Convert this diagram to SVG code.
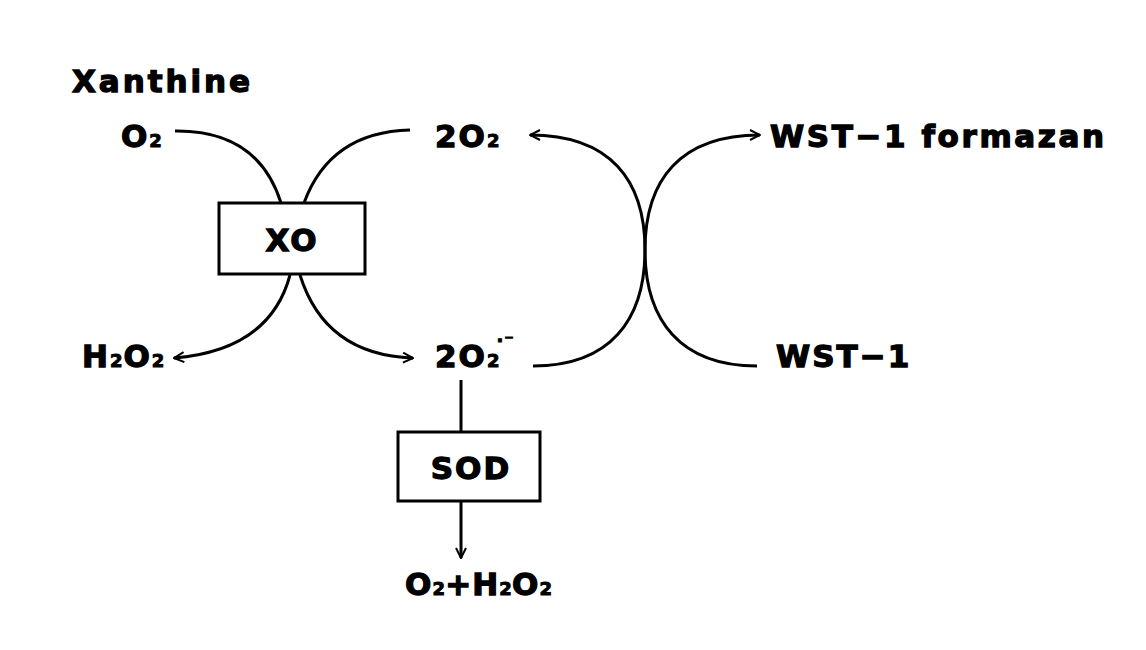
<svg xmlns="http://www.w3.org/2000/svg" width="1146" height="650" viewBox="0 0 1146 650">
<defs>
<marker id="ah" viewBox="0 0 12 12" refX="11" refY="6" markerWidth="12" markerHeight="12" markerUnits="userSpaceOnUse" orient="auto"><path d="M1,1 L11,6 L1,11" fill="none" stroke="#000" stroke-width="2"/></marker>
<style>
text{font-family:"DejaVu Sans",sans-serif;font-weight:bold;font-size:31px;fill:#000;stroke:#000;stroke-width:1.3px;letter-spacing:2px}
.s{font-size:18px;letter-spacing:1px;stroke-width:1px}
.c{fill:none;stroke:#000;stroke-width:3}
.b{fill:#fff;stroke:#000;stroke-width:3}
</style>
</defs>
<rect width="1146" height="650" fill="#fff"/>
<g id="connectors">
<path class="c" d="M175,131 Q258,130 281,203"/>
<path class="c" d="M410,130 Q330,132 304,203"/>
<path class="c" d="M290,275 Q270,350 174,358" marker-end="url(#ah)"/>
<path class="c" d="M300,275 Q325,355 413,358" marker-end="url(#ah)"/>
<path class="c" d="M533,366 C610,366 645,320 645,250 C645,180 610,135 530,135" marker-end="url(#ah)"/>
<path class="c" d="M757,366 C680,366 645,320 645,250 C645,180 680,135 760,135" marker-end="url(#ah)"/>
<path class="c" d="M461,380 L461,432"/>
<path class="c" stroke-width="2" d="M461,501 L461,558" marker-end="url(#ah)"/>
</g>
<g id="xanthine"><text x="72" y="92" textLength="180">Xanthine</text></g>
<g id="o2"><text x="121" y="147">O<tspan class="s">2</tspan></text></g>
<g id="2o2top"><text x="435" y="147">2O<tspan class="s">2</tspan></text></g>
<g id="formazan"><text x="770" y="147" textLength="336">WST−1 formazan</text></g>
<g id="xo"><rect class="b" x="219" y="203" width="146" height="71"/><text x="292" y="251" text-anchor="middle">XO</text></g>
<g id="h2o2"><text x="82" y="367">H<tspan class="s">2</tspan>O<tspan class="s">2</tspan></text></g>
<g id="superoxide"><text x="435" y="367">2O<tspan class="s">2</tspan><tspan class="s" dy="-20" dx="-4">·⁻</tspan></text></g>
<g id="wst1"><text x="776" y="367">WST−1</text></g>
<g id="sod"><rect class="b" x="398" y="432" width="142" height="69"/><text x="471" y="479" text-anchor="middle">SOD</text></g>
<g id="products"><text x="405" y="595" textLength="148">O<tspan class="s">2</tspan>+H<tspan class="s">2</tspan>O<tspan class="s">2</tspan></text></g>
</svg>
